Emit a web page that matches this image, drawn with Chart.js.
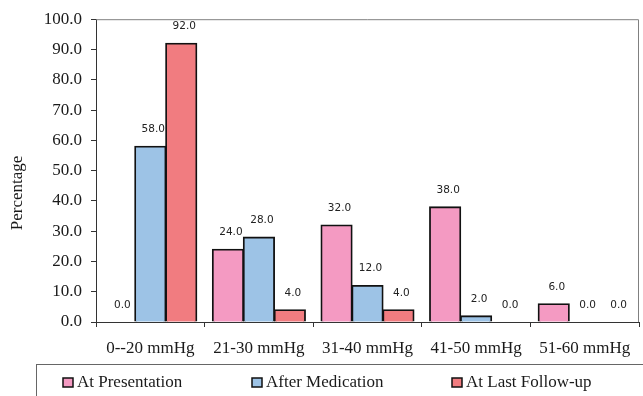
<!DOCTYPE html>
<html>
<head>
<meta charset="utf-8">
<script src="https://cdn.jsdelivr.net/npm/chart.js@4"></script>
<style>
  html, body { margin: 0; padding: 0; background: #fff; }
  #wrap { width: 643px; height: 396px; position: relative; }
</style>
</head>
<body>
<div id="wrap"><canvas id="c" width="643" height="396"></canvas></div>
<script>
const categories = ["0--20 mmHg", "21-30 mmHg", "31-40 mmHg", "41-50 mmHg", "51-60 mmHg"];
const atPresentation = [0.0, 24.0, 32.0, 38.0, 6.0];
const afterMedication = [58.0, 28.0, 12.0, 2.0, 0.0];
const atLastFollowUp = [92.0, 4.0, 4.0, 0.0, 0.0];
const seriesNames = ["At Presentation", "After Medication", "At Last Follow-up"];
const yTicks = [0, 10, 20, 30, 40, 50, 60, 70, 80, 90, 100];
const yTitle = "Percentage";

const colors = ["#F49AC2", "#9DC3E6", "#F17C80"];
const serif = "'Liberation Serif', 'Times New Roman', serif";

const decor = {
  id: 'decor',
  afterDraw(chart) {
    const ctx = chart.ctx;
    const a = chart.chartArea;
    ctx.save();
    ctx.strokeStyle = '#808080';
    ctx.lineWidth = 1;
    ctx.beginPath();
    ctx.moveTo(a.left, a.top + 0.5);
    ctx.lineTo(a.right - 0.5, a.top + 0.5);
    ctx.lineTo(a.right - 0.5, a.bottom);
    ctx.stroke();
    ctx.fillStyle = '#1a1a1a';
    ctx.font = "17px " + serif;
    ctx.textAlign = 'center';
    ctx.textBaseline = 'middle';
    ctx.translate(18, 193);
    ctx.rotate(-Math.PI / 2);
    ctx.fillText(yTitle, 0, 0);
    ctx.restore();

    ctx.save();
    ctx.strokeStyle = '#666';
    ctx.lineWidth = 1;
    ctx.strokeRect(36.5, 364.5, 620, 40);
    const xs = [63, 252, 452];
    ctx.font = "17px " + serif;
    ctx.textBaseline = 'middle';
    ctx.textAlign = 'left';
    chart.data.datasets.forEach((ds, i) => {
      ctx.fillStyle = ds.backgroundColor;
      ctx.fillRect(xs[i], 378, 10, 9);
      ctx.strokeStyle = '#111';
      ctx.lineWidth = 1.5;
      ctx.strokeRect(xs[i], 378, 10, 9);
      ctx.fillStyle = '#1a1a1a';
      ctx.fillText(ds.label, xs[i] + 14, 383);
    });
    ctx.restore();
  },
  afterDatasetsDraw(chart) {
    const ctx = chart.ctx;
    ctx.save();
    ctx.font = "10.5px 'DejaVu Sans', Verdana, sans-serif";
    ctx.fillStyle = '#222';
    ctx.textAlign = 'center';
    ctx.textBaseline = 'middle';
    chart.data.datasets.forEach((ds, i) => {
      const meta = chart.getDatasetMeta(i);
      meta.data.forEach((el, j) => {
        ctx.fillText(ds.data[j].toFixed(1), el.x + 3, el.y - 17);
      });
    });
    ctx.restore();
  }
};

new Chart(document.getElementById('c'), {
  type: 'bar',
  data: {
    labels: categories,
    datasets: [
      { label: seriesNames[0], data: atPresentation, backgroundColor: colors[0] },
      { label: seriesNames[1], data: afterMedication, backgroundColor: colors[1] },
      { label: seriesNames[2], data: atLastFollowUp, backgroundColor: colors[2] }
    ]
  },
  options: {
    responsive: false,
    animation: false,
    devicePixelRatio: 1,
    layout: { padding: { left: 0, top: 19, right: 4, bottom: 0 } },
    datasets: {
      bar: {
        borderColor: '#111',
        borderWidth: 1.8,
        inflateAmount: 0.6,
        barPercentage: 1.0,
        categoryPercentage: 0.855
      }
    },
    plugins: {
      legend: { display: false },
      tooltip: { enabled: false }
    },
    scales: {
      x: {
        afterFit(s) { s.height = 74; },
        grid: {
          display: true,
          offset: true,
          drawOnChartArea: false,
          drawTicks: true,
          tickLength: 5,
          color: '#333'
        },
        border: { display: true, color: '#333', width: 1 },
        ticks: {
          color: '#1a1a1a',
          font: { family: serif, size: 17 },
          padding: 11,
          maxRotation: 0,
          autoSkip: false
        }
      },
      y: {
        min: 0,
        max: 100,
        afterFit(s) { s.width = 96; },
        afterBuildTicks(s) { s.ticks = yTicks.map(v => ({ value: v })); },
        grid: {
          display: true,
          drawOnChartArea: false,
          drawTicks: true,
          tickLength: 5,
          color: '#333'
        },
        border: { display: true, color: '#333', width: 1 },
        ticks: {
          color: '#1a1a1a',
          font: { family: serif, size: 17 },
          padding: 9,
          callback: v => Number(v).toFixed(1)
        }
      }
    }
  },
  plugins: [decor]
});
</script>
</body>
</html>
